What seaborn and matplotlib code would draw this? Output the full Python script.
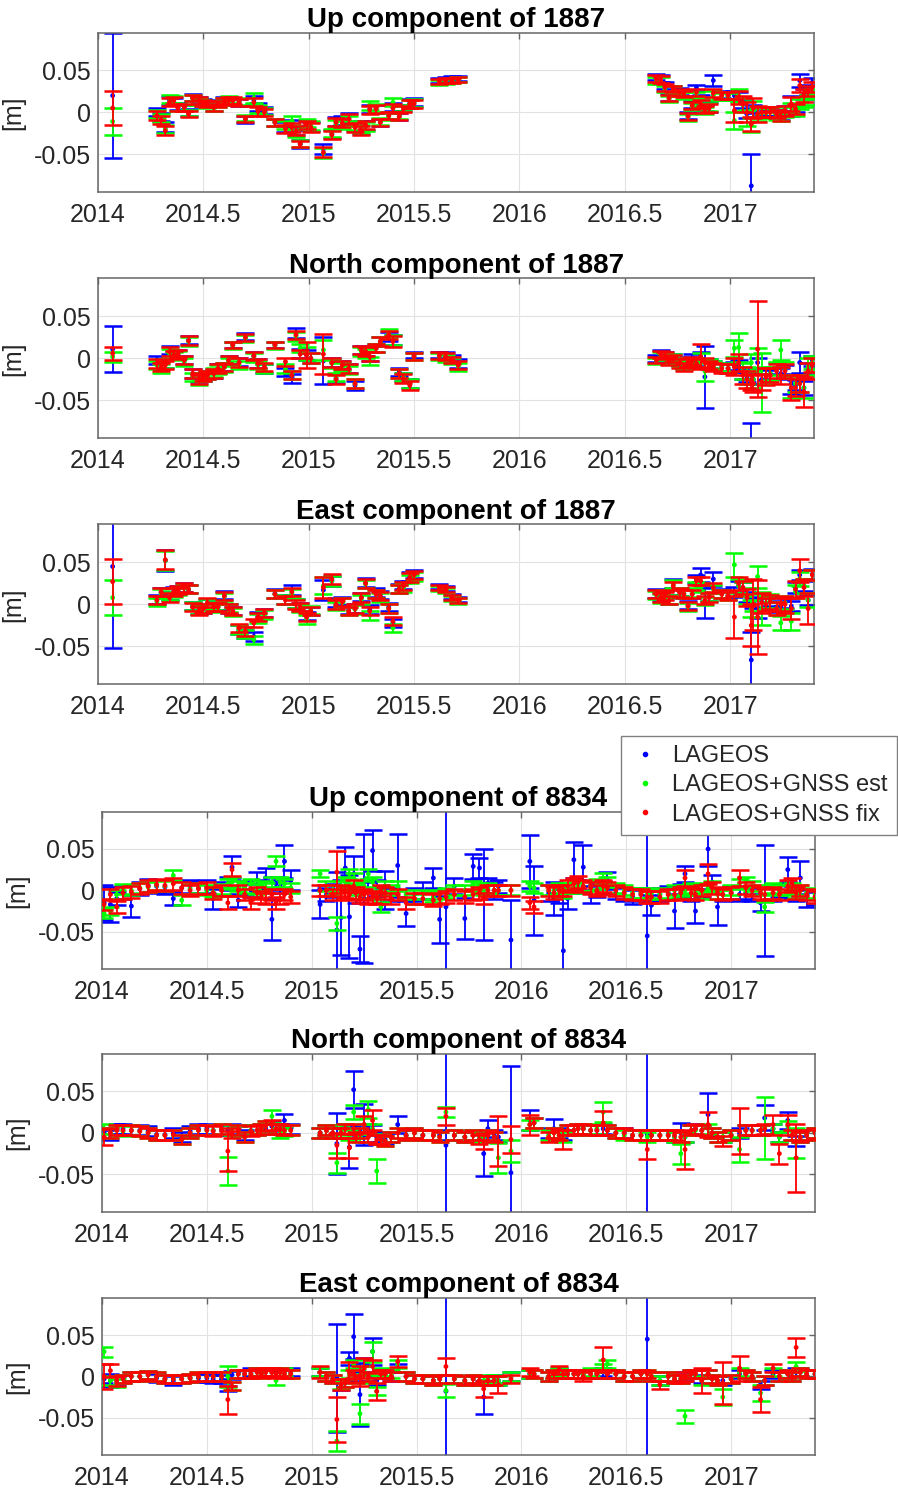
import numpy as np
import seaborn as sns
import matplotlib.pyplot as plt
from matplotlib.lines import Line2D

# all values in mm, epochs in decimal years
x1887 = [2014.07,
         2014.28, 2014.30, 2014.32, 2014.34, 2014.36, 2014.38, 2014.41, 2014.43, 2014.45, 2014.48,
         2014.50, 2014.52, 2014.55, 2014.57, 2014.60, 2014.62, 2014.64, 2014.67, 2014.70, 2014.74,
         2014.76, 2014.79, 2014.84, 2014.89, 2014.92, 2014.94, 2014.96, 2014.99, 2015.01, 2015.07,
         2015.11, 2015.13, 2015.16, 2015.19, 2015.22, 2015.25, 2015.27, 2015.29, 2015.32, 2015.34,
         2015.38, 2015.40, 2015.43, 2015.45, 2015.48, 2015.50,
         2015.62, 2015.65, 2015.68, 2015.71,
         2016.65, 2016.67, 2016.69, 2016.71, 2016.73, 2016.76, 2016.78, 2016.80, 2016.82, 2016.84,
         2016.86, 2016.88, 2016.90, 2016.92, 2016.96, 2016.99, 2017.02, 2017.04, 2017.06, 2017.08,
         2017.10, 2017.11, 2017.13, 2017.15, 2017.17, 2017.19, 2017.22, 2017.24, 2017.26, 2017.29,
         2017.31, 2017.33, 2017.35, 2017.37, 2017.39]

up1887_lag = [20,
              0, -6, -18, 14, 13, 7, 5, 0, 18, 14,
              12, 10, 6, 11, 14, 14, 13, 12, -9, 15,
              6, 2, -12, -18, -14, -22, -38, -16, -17, -44,
              -26, -11, -10, -7, -17, -18, -16, 4, 4, -12,
              -4, 6, -5, 5, 11, 12,
              38, 39, 40, 40,
              42, 40, 32, 18, 28, 25, 23, -4, 9, 29,
              16, 5, 6, 38, 21, 20, 20, 19, 10, -2,
              -88, 4, -1, 0, 0, 1, -2, -4, 3, 7,
              5, 38, 22, 27, 36]
up1887_est = [-11,
              -2, -7, -20, 16, 15, 6, 5, -1, 17, 13,
              11, 9, 6, 10, 13, 15, 13, 13, -7, 17,
              4, 1, -12, -15, -10, -25, -37, -13, -16, -49,
              -25, -14, -15, -10, -16, -20, -17, 8, 5, -11,
              -5, 12, -4, 5, 10, 11,
              36, 37, 38, 39,
              38, 38, 28, 16, 27, 23, 20, -6, 7, 20,
              12, 2, 6, 20, 19, 19, -10, 20, 9, -7,
              -15, 3, -3, -1, -1, 0, -4, -6, 0, 5,
              2, 10, 12, 15, 22]
up1887_fix = [5,
              -4, -9, -22, 12, 14, 5, 6, -2, 17, 14,
              11, 10, 6, 10, 13, 14, 14, 12, -8, 12,
              1, 0, -12, -20, -18, -22, -38, -15, -18, -48,
              -27, -12, -13, -8, -18, -22, -15, 3, 4, -12,
              -4, 5, -5, 4, 10, 10,
              37, 38, 38, 39,
              40, 39, 30, 17, 28, 24, 22, -5, 8, 24,
              10, 3, 5, 23, 20, 20, 2, 18, 10, 0,
              -14, 5, -2, 0, 0, 0, -2, -5, 2, 10,
              4, 32, 20, 25, 30]
up1887_lag_err = [75,
                  5, 5, 6, 5, 4, 4, 4, 4, 4, 4,
                  4, 4, 4, 4, 4, 4, 4, 4, 4, 5,
                  5, 4, 4, 6, 5, 5, 5, 5, 5, 6,
                  5, 5, 5, 6, 5, 8, 5, 5, 5, 4,
                  4, 5, 4, 4, 5, 5,
                  3, 3, 3, 3,
                  4, 4, 4, 4, 4, 4, 4, 4, 4, 4,
                  5, 4, 6, 6, 4, 4, 5, 5, 5, 5,
                  38, 5, 5, 5, 5, 5, 5, 5, 5, 12,
                  5, 8, 6, 6, 5]
up1887_est_err = [16,
                  5, 5, 5, 5, 4, 4, 4, 4, 4, 4,
                  4, 4, 4, 4, 4, 4, 4, 4, 4, 6,
                  5, 4, 4, 5, 5, 5, 4, 5, 5, 6,
                  5, 5, 5, 6, 5, 5, 5, 5, 5, 4,
                  4, 5, 4, 4, 5, 5,
                  3, 3, 3, 3,
                  4, 4, 4, 4, 4, 4, 4, 4, 4, 4,
                  5, 4, 5, 5, 4, 4, 10, 8, 8, 10,
                  8, 10, 8, 6, 6, 6, 5, 5, 6, 6,
                  6, 6, 6, 6, 6]
up1887_fix_err = [20,
                  5, 5, 5, 5, 4, 4, 4, 4, 4, 4,
                  4, 4, 4, 4, 4, 4, 4, 4, 4, 5,
                  5, 4, 4, 5, 5, 5, 4, 5, 5, 6,
                  5, 5, 5, 6, 5, 5, 5, 5, 5, 4,
                  4, 5, 4, 4, 5, 5,
                  3, 3, 3, 3,
                  4, 4, 4, 4, 4, 4, 4, 4, 4, 4,
                  5, 4, 5, 5, 4, 4, 14, 8, 10, 12,
                  8, 12, 10, 6, 6, 6, 5, 5, 6, 8,
                  6, 8, 8, 6, 6]

north1887_lag = [11,
                 -2, -8, -6, 10, 4, 5, -2, 22, -18, -23,
                 -22, -20, -18, -12, -10, -2, 16, -4, 26, 3,
                 -6, -12, 16, -16, -24, 30, 6, 4, 0, -3,
                 -5, -24, -8, -12, -32, 10, 8, 2, 12, 20,
                 26, 22, -16, -22, -30, 4,
                 4, 3, 0, -6,
                 0, 6, 4, -1, 1, -4, -8, -3, 0, -4,
                 2, -22, -6, -8, -10, -12, -10, -8, -18, -22,
                 -110, -25, -5, -25, -20, -18, -12, -18, -14, -30,
                 -32, -5, -35, -12, -3]
north1887_est = [2,
                 -8, -12, -6, 6, 3, 4, -4, 20, -22, -27,
                 -22, -20, -17, -13, -11, -4, 15, -8, 24, 1,
                 -8, -12, 15, -12, -20, 26, 12, 6, 0, 10,
                 -6, -22, -10, -14, -30, 8, 6, -3, 12, 20,
                 30, 22, -18, -22, -30, 2,
                 2, 0, -3, -10,
                 -3, 4, 2, -2, 1, -5, -8, -4, -4, -5,
                 0, -15, -6, -8, -10, -12, 12, 13, -15, -20,
                 -5, -25, 0, -29, -20, -18, -12, 10, -12, -35,
                 -30, -30, -35, -10, -5]
north1887_fix = [6,
                 -6, -10, -8, 8, 4, 5, -2, 21, -18, -25,
                 -22, -20, -18, -12, -10, -2, 16, -5, 25, 3,
                 -6, -10, 16, -4, -20, 28, 5, 4, 0, 5,
                 -5, -25, -8, -12, -30, 10, 8, 2, 12, 20,
                 28, 20, -18, -24, -32, 2,
                 3, 2, -2, -8,
                 -2, 5, 3, -3, 0, -6, -10, -5, -3, -6,
                 2, -5, -8, -10, -12, -12, -10, -5, -20, -25,
                 -28, -30, 11, -28, -22, -20, -15, -20, -15, -35,
                 -35, -30, -40, -15, -8]
north1887_lag_err = [27,
                     5, 5, 5, 5, 5, 5, 5, 5, 5, 5,
                     5, 5, 5, 5, 5, 5, 4, 5, 4, 5,
                     5, 5, 4, 5, 5, 6, 5, 6, 6, 28,
                     5, 5, 5, 5, 5, 5, 5, 5, 5, 5,
                     5, 6, 5, 5, 5, 4,
                     4, 4, 4, 5,
                     4, 4, 4, 5, 4, 5, 5, 5, 5, 5,
                     6, 37, 5, 5, 5, 5, 6, 6, 6, 6,
                     33, 6, 6, 6, 6, 6, 6, 6, 6, 12,
                     6, 12, 8, 6, 6]
north1887_est_err = [6,
                     5, 5, 5, 5, 5, 5, 5, 5, 5, 5,
                     5, 5, 5, 5, 5, 5, 4, 5, 4, 5,
                     5, 5, 4, 5, 5, 5, 5, 8, 6, 12,
                     5, 5, 5, 5, 5, 5, 5, 5, 5, 5,
                     5, 6, 5, 5, 5, 4,
                     4, 4, 4, 5,
                     4, 4, 4, 5, 4, 5, 5, 5, 5, 5,
                     6, 12, 5, 5, 5, 5, 10, 17, 10, 10,
                     10, 10, 12, 35, 10, 8, 8, 12, 8, 12,
                     10, 10, 12, 10, 8]
north1887_fix_err = [8,
                     5, 5, 5, 5, 5, 5, 5, 5, 5, 5,
                     5, 5, 5, 5, 5, 5, 4, 5, 4, 5,
                     5, 5, 4, 5, 5, 5, 5, 16, 6, 24,
                     5, 5, 5, 5, 5, 5, 5, 5, 5, 5,
                     5, 6, 5, 5, 5, 4,
                     4, 4, 4, 5,
                     4, 4, 4, 5, 4, 5, 5, 5, 5, 5,
                     15, 5, 5, 5, 5, 5, 10, 10, 10, 10,
                     10, 10, 57, 10, 10, 8, 8, 10, 8, 15,
                     10, 10, 18, 10, 8]

east1887_lag = [45,
                6, 14, 52, 10, 16, 17, 20, 18, -2, -7,
                -5, 1, -3, -2, 11, -5, -8, -30, -35, -38,
                -14, -10, 13, 6, 17, 1, -3, -14, -8, 17,
                28, 2, 4, -6, -5, 9, 26, -6, 14, 11,
                -3, -22, 19, 23, 33, 36,
                21, 19, 9, 6,
                13, 9, 11, 6, 25, 15, 13, -1, 13, 30,
                35, 2, 9, 30, 13, 11, 15, 22, 20, 9,
                -66, 2, -10, 3, 1, 4, -3, -2, 2, -2,
                20, 35, 22, 5, 36]
east1887_est = [8,
                3, 13, 52, 10, 14, 16, 19, 18, -2, -7,
                -4, 1, -2, -4, 9, -4, -9, -30, -35, -42,
                -17, -12, 12, 6, 13, 1, -4, -18, -7, 22,
                28, -2, 2, -8, -6, 6, 24, -13, 12, 8,
                -5, -28, 18, 20, 30, 33,
                19, 17, 7, 4,
                11, 7, 12, 6, 24, 15, 13, -3, 14, 22,
                20, 4, 9, 18, 12, 10, 47, 22, 18, 10,
                -5, 2, 33, -5, 2, 4, -5, -22, 2, -20,
                15, 30, 22, 5, 35]
east1887_fix = [27,
                5, 15, 53, 8, 15, 17, 20, 18, -3, -8,
                -5, 2, -3, -3, 10, -5, -8, -28, -32, -22,
                -15, -10, 12, 5, 15, 0, -3, -15, -8, 20,
                30, 0, 3, -8, -5, 8, 25, -8, 12, 10,
                -5, -20, 18, 22, 32, 35,
                20, 18, 8, 5,
                12, 8, 10, 5, 22, 14, 12, -2, 12, 28,
                28, 5, 8, 20, 12, 10, -15, 25, 20, 8,
                -25, 0, -15, 2, 0, 3, -5, 0, 0, -5,
                18, 40, 20, -5, 35]
east1887_lag_err = [97,
                    5, 5, 12, 5, 5, 5, 5, 5, 5, 5,
                    5, 5, 5, 5, 5, 5, 5, 5, 5, 5,
                    5, 5, 5, 5, 6, 5, 5, 5, 5, 12,
                    6, 5, 5, 5, 5, 5, 5, 5, 5, 5,
                    5, 5, 5, 5, 5, 5,
                    3, 3, 3, 3,
                    5, 5, 5, 5, 5, 5, 5, 5, 5, 5,
                    8, 18, 5, 8, 5, 5, 6, 6, 6, 6,
                    33, 6, 6, 6, 6, 6, 6, 6, 6, 6,
                    6, 6, 6, 6, 6]
east1887_est_err = [21,
                    5, 5, 11, 5, 5, 5, 5, 5, 5, 5,
                    5, 5, 5, 5, 5, 5, 5, 5, 5, 5,
                    5, 5, 5, 5, 5, 5, 5, 5, 5, 10,
                    6, 5, 5, 5, 5, 5, 5, 5, 5, 5,
                    5, 5, 5, 5, 5, 5,
                    3, 3, 3, 3,
                    5, 5, 5, 5, 5, 5, 5, 5, 5, 5,
                    5, 5, 5, 5, 5, 5, 14, 8, 8, 10,
                    10, 10, 13, 20, 8, 8, 8, 8, 8, 10,
                    8, 8, 8, 8, 6]
east1887_fix_err = [27,
                    5, 5, 11, 5, 5, 5, 5, 5, 5, 5,
                    5, 5, 5, 5, 5, 5, 5, 5, 5, 5,
                    5, 5, 5, 5, 5, 5, 5, 5, 5, 12,
                    6, 5, 5, 5, 5, 5, 5, 5, 5, 5,
                    5, 5, 5, 5, 5, 5,
                    3, 3, 3, 3,
                    5, 5, 5, 5, 5, 5, 5, 5, 5, 5,
                    5, 5, 5, 5, 5, 5, 25, 8, 8, 10,
                    25, 30, 44, 12, 8, 8, 8, 8, 10, 12,
                    10, 14, 10, 18, 6]

x8834 = [2014.01, 2014.04, 2014.07, 2014.10, 2014.14, 2014.18, 2014.22, 2014.26, 2014.30, 2014.34,
         2014.38, 2014.42, 2014.46, 2014.50, 2014.53, 2014.57, 2014.60, 2014.62, 2014.65, 2014.68,
         2014.71, 2014.74, 2014.76, 2014.78, 2014.81, 2014.83, 2014.85, 2014.87, 2014.90,
         2015.04, 2015.07, 2015.10, 2015.12, 2015.14, 2015.16, 2015.18, 2015.20, 2015.21, 2015.23,
         2015.25, 2015.27, 2015.29, 2015.31, 2015.33, 2015.35, 2015.38, 2015.41, 2015.45, 2015.49,
         2015.53, 2015.58, 2015.61, 2015.64, 2015.68, 2015.73, 2015.77, 2015.80, 2015.82, 2015.84,
         2015.87, 2015.89, 2015.95, 2016.04, 2016.06,
         2016.13, 2016.155, 2016.18, 2016.20, 2016.22, 2016.25, 2016.27, 2016.295, 2016.33, 2016.36,
         2016.39, 2016.41, 2016.45, 2016.49, 2016.53, 2016.57, 2016.60, 2016.62, 2016.66, 2016.70,
         2016.73, 2016.76, 2016.78, 2016.81, 2016.83, 2016.86, 2016.89, 2016.91, 2016.935, 2016.96,
         2017.00, 2017.04, 2017.07, 2017.10, 2017.14, 2017.16, 2017.20, 2017.23, 2017.27, 2017.29,
         2017.31, 2017.33, 2017.36, 2017.40]

up8834_lag = [-15, -17, -10, -3, -19, 2, 6, 5, 4, -10,
              3, 5, 3, 5, -10, 2, 8, 28, -12, 3,
              0, 12, 5, 15, -35, 8, 5, 35, 12,
              -17, -5, 0, -48, -33, 27, -32, 20, -5, -71,
              -10, 0, 48, 3, -5, 0, -5, 30, -28, -5,
              0, 15, -35, -20, 5, -34, 29, 27, -5, 5,
              0, 5, -60, 35, -12,
              -3, -10, -5, -73, -10, 37, 5, 28, -5, 0,
              3, 12, -3, -5, -8, -5, -55, -18, -5, -3,
              -25, 0, 20, -5, -25, 0, 50, 10, -20, -5,
              -3, -5, -3, -5, -15, -12, -5, 0, 25, -3,
              -5, 15, -10, -10]
up8834_est = [-28, -25, -5, 2, 0, 3, 4, 6, 5, 18,
              -12, 2, 3, 0, -2, 2, 8, 10, 5, 3,
              8, 2, 5, 3, 10, 35, 10, 8, 3,
              20, 5, 0, -40, 5, 10, 20, 15, 0, -5,
              5, 20, 10, -5, -20, 5, 0, 5, -5, -10,
              -5, -8, -5, -3, 0, 0, 5, 3, 0, 3,
              0, 0, 0, 5, 3,
              0, 0, 3, -3, 3, 3, 5, 5, 5, 8,
              15, 10, 3, 0, -3, -3, -5, -3, -5, -3,
              0, -3, 0, 3, 0, -5, 3, 5, -5, -5,
              0, 8, 10, 5, 0, -20, 3, 0, 0, 3,
              -3, 0, -3, -5]
up8834_fix = [-17, -5, -20, -3, -2, 2, 5, 7, 6, 8,
              3, 0, 2, 3, -3, 0, -15, 25, 0, -5,
              -15, -3, -8, -10, -5, -15, -10, -5, -8,
              0, 0, -5, 22, 0, -2, -5, 5, -3, -8,
              -5, -10, -8, -10, 0, -3, -10, -5, -15, -10,
              -10, -12, -10, -8, -5, -8, -5, -3, -10, 0,
              0, 0, 0, -15, -20,
              0, -3, 0, 0, 5, 8, 10, 5, 3, 0,
              5, 3, 0, -3, -5, -5, -8, -8, -8, -5,
              -5, -3, 15, -3, -5, 0, 20, 3, -3, -5,
              -3, 15, 3, 0, -3, -5, -3, -5, 5, 8,
              -3, 0, -5, -8]
up8834_lag_err = [21, 21, 8, 8, 13, 8, 8, 8, 8, 8,
                  8, 8, 8, 8, 12, 8, 8, 13, 8, 8,
                  8, 10, 8, 12, 25, 8, 8, 20, 12,
                  17, 8, 8, 70, 45, 25, 50, 22, 10, 16,
                  78, 10, 25, 10, 10, 23, 8, 38, 15, 8,
                  10, 12, 28, 130, 10, 25, 15, 12, 55, 10,
                  10, 8, 48, 32, 42,
                  10, 20, 10, 75, 12, 22, 8, 27, 10, 8,
                  8, 10, 8, 8, 8, 8, 150, 12, 8, 8,
                  20, 8, 10, 8, 15, 8, 20, 8, 22, 8,
                  8, 8, 8, 8, 10, 67, 8, 8, 15, 8,
                  8, 20, 10, 8]
up8834_est_err = [5, 5, 6, 6, 6, 6, 6, 6, 6, 6,
                  6, 6, 6, 6, 6, 6, 6, 6, 6, 6,
                  6, 6, 6, 6, 6, 6, 6, 6, 6,
                  4, 6, 6, 8, 6, 6, 6, 6, 6, 6,
                  6, 6, 6, 6, 6, 6, 6, 6, 6, 6,
                  6, 6, 6, 6, 6, 6, 6, 6, 6, 6,
                  6, 6, 6, 6, 6,
                  6, 6, 6, 6, 6, 6, 6, 6, 6, 6,
                  6, 6, 6, 6, 6, 6, 6, 6, 6, 6,
                  6, 6, 6, 6, 6, 6, 6, 6, 6, 6,
                  6, 6, 6, 6, 6, 6, 6, 6, 6, 6,
                  6, 6, 6, 6]
up8834_fix_err = [7, 7, 7, 7, 7, 7, 7, 7, 7, 7,
                  7, 7, 7, 7, 7, 7, 8, 8, 7, 7,
                  7, 7, 7, 7, 7, 7, 7, 7, 7,
                  7, 7, 7, 25, 7, 7, 7, 7, 7, 7,
                  7, 7, 7, 7, 7, 7, 7, 7, 7, 7,
                  7, 7, 7, 7, 7, 7, 7, 7, 7, 7,
                  7, 7, 7, 7, 7,
                  7, 7, 7, 7, 7, 7, 7, 7, 7, 7,
                  7, 7, 7, 7, 7, 7, 7, 7, 7, 7,
                  7, 7, 10, 7, 7, 7, 12, 7, 7, 7,
                  7, 10, 7, 7, 7, 7, 7, 7, 7, 7,
                  7, 7, 7, 7]

north8834_lag = [0, -3, 5, 5, 3, 3, 2, -2, -2, 0,
                 -5, 2, 5, 5, 3, 3, 3, 5, 2, -3,
                 3, 3, 5, 5, 8, 5, 5, 15, 5,
                 0, 3, 0, -13, 0, 5, -17, 52, 0, 3,
                 10, 5, 3, -5, -5, -8, -5, 10, -3, 0,
                 -3, -3, -3, -15, -3, -5, -3, -5, -25, 5,
                 -3, -5, -48, 15, 12,
                 0, 5, 0, -3, 3, 3, 5, 5, 3, 3,
                 5, 3, 0, 0, -3, -3, -2, -3, -3, -3,
                 -5, 0, -5, 3, 5, 3, 22, 0, -5, -5,
                 -3, 0, 3, 3, 3, 18, 5, -5, 15, -3,
                 -10, -5, -3, 0]
north8834_est = [5, 0, 3, 2, 3, 2, 0, -3, -3, -3,
                 -8, 0, 3, 3, 3, 5, -46, 3, 2, -5,
                 3, 3, 5, 8, 20, 5, 0, 2, 3,
                 0, 3, 0, -36, 3, 5, -3, 25, 0, -5,
                 5, 28, 5, -46, -8, -10, -5, 0, -3, 0,
                 -3, -3, -5, 25, -3, -5, -3, -5, -5, -3,
                 -5, -30, -22, 10, 12,
                 -3, 0, -3, -5, 3, 3, 5, 5, 3, 5,
                 25, 3, 0, -3, -3, -3, -5, -3, -3, -3,
                 -5, -25, -5, 3, 3, 3, 5, 0, -5, -5,
                 -3, -20, 3, 3, 3, 6, 5, -5, 8, -3,
                 -12, -5, -3, 0]
north8834_fix = [-5, 0, 3, 3, 3, 2, 0, -3, -3, -2,
                 -8, 0, 3, 3, 2, 5, -22, 0, 3, -5,
                 2, 3, 5, 8, 10, 5, 5, 3, 3,
                 0, 3, 0, -15, 0, 5, -18, 5, -5, 0,
                 10, -5, 15, -8, -8, -10, -5, 0, -3, 0,
                 -3, -3, -5, 20, -3, -5, -3, -8, -10, -3,
                 -5, -10, -8, 10, 12,
                 -5, 0, -3, -8, 3, 3, 5, 5, 3, 3,
                 12, 3, 0, 0, -3, -3, -20, -3, -3, -3,
                 -3, -5, -20, 3, 5, 3, 10, 0, -5, -10,
                 -3, 2, 3, 3, 3, 5, 10, -25, 10, -3,
                 -30, -5, -3, 0]
north8834_lag_err = [6, 6, 6, 6, 6, 6, 6, 6, 6, 6,
                     6, 6, 6, 6, 6, 6, 6, 6, 6, 6,
                     6, 6, 6, 6, 6, 6, 6, 8, 6,
                     6, 6, 6, 37, 6, 6, 25, 22, 6, 6,
                     25, 6, 6, 6, 6, 6, 6, 10, 6, 6,
                     6, 6, 6, 120, 6, 6, 6, 6, 27, 10,
                     6, 6, 129, 12, 6,
                     6, 12, 6, 6, 6, 6, 6, 6, 6, 6,
                     6, 6, 6, 6, 6, 6, 120, 6, 6, 6,
                     6, 12, 6, 6, 6, 6, 26, 6, 6, 6,
                     6, 6, 6, 6, 6, 15, 6, 6, 10, 6,
                     6, 6, 6, 6]
north8834_est_err = [6, 6, 6, 6, 6, 6, 6, 6, 6, 6,
                     6, 6, 6, 6, 6, 6, 17, 6, 6, 6,
                     6, 6, 6, 6, 8, 6, 6, 6, 6,
                     6, 6, 6, 12, 6, 6, 6, 8, 6, 6,
                     6, 10, 6, 14, 6, 6, 6, 6, 6, 6,
                     6, 6, 6, 6, 6, 6, 6, 6, 6, 6,
                     6, 18, 13, 6, 6,
                     6, 6, 6, 6, 6, 6, 6, 6, 6, 6,
                     12, 6, 6, 6, 6, 6, 6, 6, 6, 6,
                     6, 12, 6, 6, 6, 6, 6, 6, 6, 6,
                     6, 15, 6, 6, 6, 37, 6, 6, 6, 6,
                     18, 6, 6, 6]
north8834_fix_err = [10, 6, 6, 6, 6, 6, 6, 6, 6, 6,
                     6, 6, 6, 6, 6, 6, 24, 6, 6, 6,
                     6, 6, 6, 6, 6, 6, 6, 6, 6,
                     6, 6, 6, 15, 6, 6, 12, 6, 6, 6,
                     10, 6, 12, 6, 6, 6, 6, 6, 6, 6,
                     6, 6, 6, 10, 6, 6, 6, 6, 10, 6,
                     6, 30, 16, 12, 6,
                     6, 6, 6, 12, 6, 6, 6, 6, 6, 6,
                     14, 6, 6, 6, 6, 6, 12, 6, 6, 6,
                     6, 6, 24, 6, 6, 6, 15, 6, 6, 6,
                     6, 28, 6, 6, 6, 6, 12, 12, 12, 6,
                     41, 6, 6, 6]

east8834_lag = [-3, -5, -5, -3, 0, 0, 2, -2, -3, -5,
                -3, -2, -2, -2, -3, -3, -15, 2, 3, 3,
                5, 5, 5, 5, 5, 5, 5, 5, 5,
                5, 0, -3, -2, -12, -8, 22, 48, 0, -22,
                12, 0, 30, -5, 3, 3, 0, 10, 0, -3,
                -3, -5, -3, -18, -3, -5, -3, -5, -25, -5,
                -3, -5, 0, 3, 3,
                0, 3, 5, 3, 3, 3, 3, 3, 3, 3,
                5, 3, 3, 0, 0, 3, 45, 0, -5, 0,
                -3, -3, 0, 3, 3, -3, 3, -3, -5, -5,
                -3, 3, 3, 0, -10, -5, 3, 0, 3, 0,
                5, 5, 3, 3]
east8834_est = [30, -5, -8, -3, 0, 0, 2, 0, -3, -3,
                -3, -2, 0, 0, 0, 0, 0, -12, 3, 3,
                3, 5, 3, 5, 5, -5, 5, 5, 3,
                5, 0, -3, -78, -10, -8, 3, 15, -3, -45,
                8, -3, 30, -18, 5, 3, 3, 15, 0, -3,
                -3, -5, -3, -17, -3, -5, -3, -5, -5, -3,
                -3, -5, 0, 3, 3,
                0, 3, 5, 3, 3, 3, 3, 3, 5, 3,
                10, 15, 3, 0, 0, 3, 3, 0, -5, 0,
                -3, -3, -48, 3, 3, -5, 3, -3, -5, -25,
                -3, 5, 3, 0, -20, -5, 5, 0, 3, 0,
                12, 5, 3, 3]
east8834_fix = [0, 7, -5, -3, 0, 0, 2, 0, -3, -3,
                -3, -2, 0, 0, 0, 0, -28, -12, 3, 3,
                3, 5, 3, 5, 5, 3, 5, 3, 3,
                5, 0, -3, -52, -10, -8, 5, 3, -3, 0,
                10, 0, 12, -18, 3, 3, 0, 18, 0, -3,
                -3, -5, -3, 12, -3, -5, -3, -5, -15, -5,
                -5, -10, -3, 5, 3,
                0, 3, 8, 3, 3, 3, 3, 0, 3, 3,
                20, 3, 3, 0, 0, 3, 3, 0, -10, 0,
                -3, -3, 0, 3, 3, -5, 3, -3, -5, -8,
                -3, 10, 3, 0, -28, -5, 10, 0, 3, 0,
                35, 5, 3, 3]
east8834_lag_err = [5, 8, 5, 5, 5, 5, 5, 5, 5, 5,
                    5, 5, 5, 5, 5, 5, 3, 5, 5, 5,
                    5, 5, 5, 5, 5, 5, 5, 5, 5,
                    5, 5, 5, 65, 5, 5, 8, 27, 5, 38,
                    10, 5, 16, 5, 5, 5, 5, 5, 5, 5,
                    5, 5, 5, 130, 5, 5, 5, 5, 20, 5,
                    5, 5, 5, 5, 5,
                    5, 5, 5, 5, 5, 5, 5, 5, 5, 5,
                    5, 5, 5, 5, 5, 5, 150, 5, 5, 5,
                    5, 5, 5, 5, 5, 5, 5, 5, 5, 5,
                    5, 5, 5, 5, 5, 5, 5, 5, 5, 5,
                    5, 5, 5, 5]
east8834_est_err = [6, 5, 5, 5, 5, 5, 5, 5, 5, 5,
                    5, 5, 5, 5, 5, 5, 13, 5, 5, 5,
                    5, 5, 5, 5, 5, 5, 5, 5, 5,
                    5, 5, 5, 12, 5, 5, 5, 5, 5, 12,
                    5, 5, 12, 5, 5, 5, 5, 5, 5, 5,
                    5, 5, 5, 8, 5, 5, 5, 5, 5, 5,
                    5, 5, 5, 5, 5,
                    5, 5, 5, 5, 5, 5, 5, 5, 5, 5,
                    5, 5, 5, 5, 5, 5, 5, 5, 5, 5,
                    5, 5, 8, 5, 5, 5, 5, 5, 5, 10,
                    5, 5, 5, 5, 10, 5, 5, 5, 5, 5,
                    6, 5, 5, 5]
east8834_fix_err = [15, 8, 6, 5, 5, 5, 5, 5, 5, 5,
                    5, 5, 5, 5, 5, 5, 17, 5, 5, 5,
                    5, 5, 5, 5, 5, 5, 5, 5, 5,
                    7, 5, 5, 27, 7, 5, 12, 5, 5, 12,
                    12, 5, 8, 10, 5, 5, 5, 7, 5, 5,
                    5, 5, 5, 10, 5, 5, 5, 5, 10, 5,
                    5, 10, 5, 5, 5,
                    5, 5, 5, 5, 5, 5, 5, 5, 5, 5,
                    15, 5, 5, 5, 5, 5, 5, 5, 5, 5,
                    5, 5, 5, 5, 5, 15, 5, 5, 5, 25,
                    5, 15, 5, 5, 15, 5, 5, 5, 5, 5,
                    12, 5, 5, 5]

series_names = ["LAGEOS", "LAGEOS+GNSS est", "LAGEOS+GNSS fix"]
series_colors = ["#0000ff", "#00ff00", "#ff0000"]
xticks = [2014, 2014.5, 2015, 2015.5, 2016, 2016.5, 2017]
xtick_labels = ["2014", "2014.5", "2015", "2015.5", "2016", "2016.5", "2017"]
yticks = [-0.05, 0, 0.05]
ytick_labels = ["-0.05", "0", "0.05"]

panels = [
    ("Up component of 1887", x1887, [up1887_lag, up1887_est, up1887_fix],
     [up1887_lag_err, up1887_est_err, up1887_fix_err]),
    ("North component of 1887", x1887, [north1887_lag, north1887_est, north1887_fix],
     [north1887_lag_err, north1887_est_err, north1887_fix_err]),
    ("East component of 1887", x1887, [east1887_lag, east1887_est, east1887_fix],
     [east1887_lag_err, east1887_est_err, east1887_fix_err]),
    ("Up component of 8834", x8834, [up8834_lag, up8834_est, up8834_fix],
     [up8834_lag_err, up8834_est_err, up8834_fix_err]),
    ("North component of 8834", x8834, [north8834_lag, north8834_est, north8834_fix],
     [north8834_lag_err, north8834_est_err, north8834_fix_err]),
    ("East component of 8834", x8834, [east8834_lag, east8834_est, east8834_fix],
     [east8834_lag_err, east8834_est_err, east8834_fix_err]),
]

# axes rectangles in figure fractions (left, bottom, width, height)
rects = [
    (0.109, 0.8714, 0.798, 0.1066),
    (0.109, 0.7060, 0.798, 0.1073),
    (0.109, 0.5410, 0.798, 0.1073),
    (0.1136, 0.3501, 0.794, 0.1055),
    (0.1136, 0.1873, 0.794, 0.1058),
    (0.1136, 0.0241, 0.794, 0.1055),
]

sns.set_style("whitegrid")
plt.rcParams['font.family'] = ['Liberation Sans', 'DejaVu Sans']
plt.rcParams['axes.unicode_minus'] = False

fig = plt.figure(figsize=(8.98, 14.91), dpi=100)

for rect, (title, x, vals, errs) in zip(rects, panels):
    ax = fig.add_axes(rect)
    for k, (y, e) in enumerate(zip(vals, errs)):
        y = np.array(y) / 1000.0
        e = np.array(e) / 1000.0
        color = series_colors[k]
        ax.errorbar(x, y, yerr=e, fmt='none', ecolor=color, elinewidth=1.3,
                    capsize=6.5, capthick=1.8, zorder=2 + k)
        sns.scatterplot(x=x, y=y, color=color, s=12, edgecolor='none',
                        ax=ax, zorder=2.5 + k, legend=False)
    ax.set_xlim(2014, 2017.4)
    ax.set_ylim(-0.095, 0.095)
    ax.set_xticks(xticks)
    ax.set_xticklabels(xtick_labels)
    ax.set_yticks(yticks)
    ax.set_yticklabels(ytick_labels)
    ax.set_xlabel("")
    ax.set_ylabel("[m]", fontsize=18, color="#262626", labelpad=6)
    ax.set_title(title, fontsize=20, fontweight='bold', pad=4, color='black')
    ax.set_facecolor('white')
    ax.set_axisbelow(True)
    ax.grid(True, color='#e2e2e2', linewidth=0.8)
    ax.tick_params(direction='in', length=4, width=1, top=True, right=True,
                   color='#666666', labelcolor='#262626', labelsize=18)
    ax.tick_params(axis='x', pad=8)
    ax.tick_params(axis='y', pad=5)
    for s in ax.spines.values():
        s.set_color('#666666')
        s.set_linewidth(1.1)

handles = [Line2D([], [], marker='.', linestyle='none', color=c, markersize=6)
           for c in series_colors]
leg = fig.legend(handles, series_names, loc='upper right', bbox_to_anchor=(0.999, 0.5064),
                 fontsize=17, frameon=True, fancybox=False, edgecolor='#808080',
                 framealpha=1, borderpad=0.4, handlelength=1.2, handletextpad=0.55,
                 labelspacing=0.3, borderaxespad=0)
leg.get_frame().set_linewidth(1.0)

fig.savefig("out.png", dpi=100)
